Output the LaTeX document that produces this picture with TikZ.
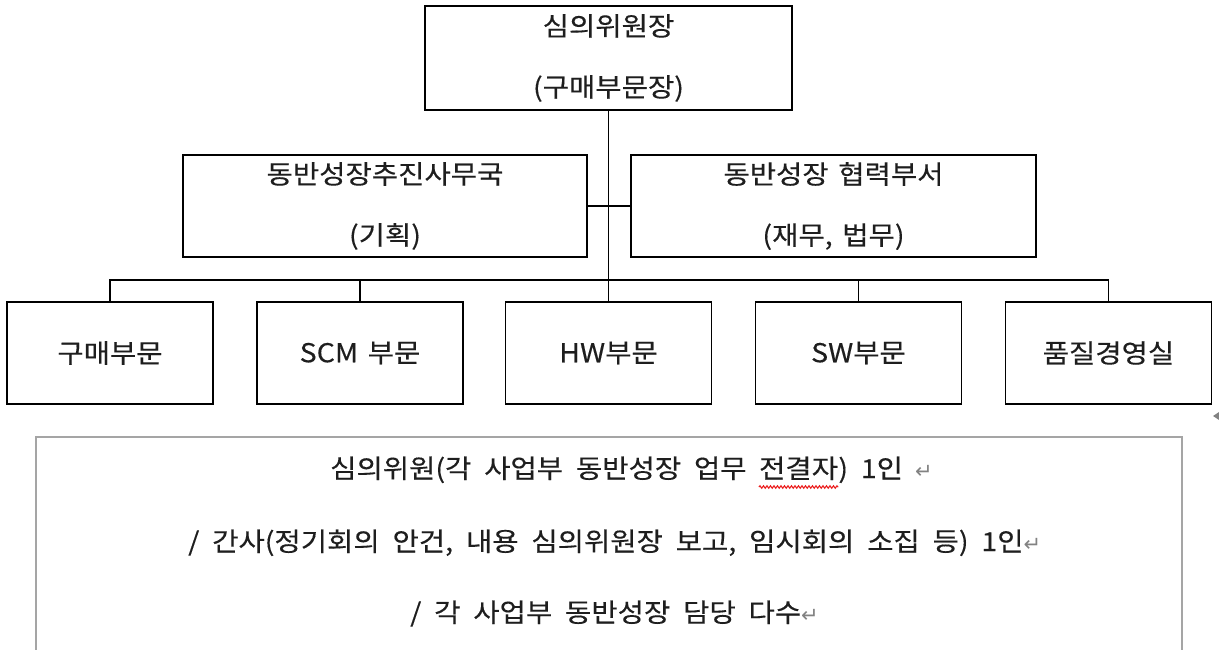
\documentclass[tikz,border=0pt]{standalone}
\usepackage{fontspec}
\setmainfont{Noto Sans CJK KR}[WordSpace=1.5, FakeStretch=1.1, FakeBold=0.3]
\newfontfamily\notefont{Noto Sans CJK KR}[WordSpace=2, FakeStretch=1.1, FakeBold=0.3]
\newfontfamily\symfont{DejaVu Sans}
\usetikzlibrary{decorations.pathmorphing}
\definecolor{txt}{RGB}{30,30,30}
\definecolor{notegray}{RGB}{165,165,165}
\definecolor{markgray}{RGB}{130,130,130}
\definecolor{spellred}{RGB}{235,30,30}
\newcommand\wordpara{{\symfont\fontsize{21}{22}\selectfont\textcolor{markgray}{↵}}}
\begin{document}
\begin{tikzpicture}[x=1pt,y=-1pt,
  box/.style={draw=black, line width=1.9pt, fill=white, inner sep=0pt, align=center, text=txt, font=\fontsize{26}{61}\selectfont},
  unit/.style={box, minimum width=206pt, minimum height=102pt},
  wire/.style={draw=black, line width=1.9pt},
  notetext/.style={anchor=base west, inner sep=0pt, text=txt, font=\notefont\fontsize{26}{30}\selectfont},
  spell/.style={draw=spellred, line width=1.1pt, decorate, decoration={snake, amplitude=1.2pt, segment length=3.5pt}}
]
\useasboundingbox (0,0) rectangle (1219,650);

% boxes
\node[box, minimum width=367pt, minimum height=104pt] (chair) at (608.5,58) {심의위원장\\(구매부문장)};
\node[box, minimum width=404pt, minimum height=102pt] (office) at (385,206) {동반성장추진사무국\\(기획)};
\node[box, minimum width=405pt, minimum height=102pt] (coop) at (833.5,206) {동반성장 협력부서\\(재무, 법무)};

\node[unit] (buy) at (110,353) {구매부문};
\node[unit] (scm) at (360,353) {SCM 부문};
\node[unit] (hw)  at (608.5,353) {HW부문};
\node[unit] (sw)  at (858.5,353) {SW부문};
\node[unit] (qm)  at (1108.5,353) {품질경영실};

% connectors
\coordinate (bus) at (0,280);
\draw[wire] (chair.south) -- (hw.north);
\draw[wire] (office.east) -- (coop.west);
\draw[wire] (buy.north) -- (buy.north |- bus) -- (qm.north |- bus) -- (qm.north);
\draw[wire] (scm.north) -- (scm.north |- bus);
\draw[wire] (sw.north) -- (sw.north |- bus);

% small marker
\fill[markgray] (1213,416) -- (1219,412) -- (1219,420) -- cycle;

% note box
\draw[notegray, line width=1.5pt] (36,655) -- (36,437) -- (1182,437) -- (1182,655);

\node[notetext] (n1a) at (330,478) {심의위원(각 사업부 동반성장 업무\rule{12pt}{0pt}};
\node[notetext] (n1b) at (n1a.base east) {전결자};
\node[notetext] (n1c) at (n1b.base east) {) 1인\rule{12pt}{0pt}\wordpara};
\draw[spell] ([yshift=-9pt]n1b.base west) -- ([yshift=-9pt]n1b.base east);

\node[notetext] (n2) at (188,551) {/ 간사(정기회의 안건, 내용 심의위원장 보고, 임시회의 소집 등) 1인\wordpara};
\node[notetext] (n3) at (410,622) {/ 각 사업부 동반성장 담당 다수\wordpara};
\end{tikzpicture}
\end{document}
